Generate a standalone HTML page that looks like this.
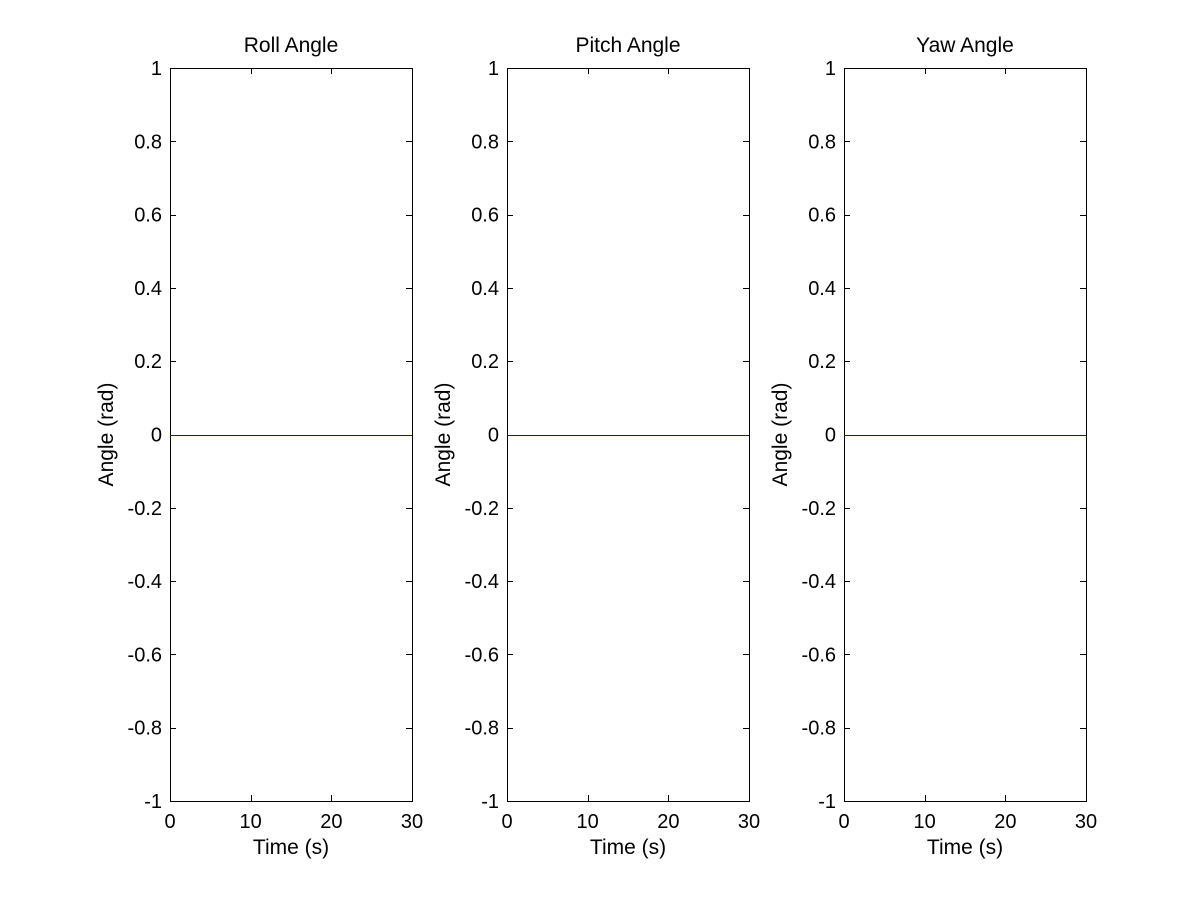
<!DOCTYPE html>
<html><head><meta charset="utf-8"><style>
html,body{margin:0;padding:0;background:#fff;}
svg{display:block;font-family:"Liberation Sans",Arial,sans-serif;}
</style></head><body>
<svg id="fig" width="1200" height="900" viewBox="0 0 1200 900"></svg>
<script>
const titles = ["Roll Angle", "Pitch Angle", "Yaw Angle"];
const xTicks = [0, 10, 20, 30];
const yTicks = [-1, -0.8, -0.6, -0.4, -0.2, 0, 0.2, 0.4, 0.6, 0.8, 1];
const timeValues = [0, 30];
const rollValues = [0, 0];
const pitchValues = [0, 0];
const yawValues = [0, 0];
const seriesList = [rollValues, pitchValues, yawValues];

const NS = "http://www.w3.org/2000/svg";
const svgEl = document.getElementById("fig");
function mk(tag, attrs, parent) {
  const e = document.createElementNS(NS, tag);
  for (const k in attrs) e.setAttribute(k, attrs[k]);
  parent.appendChild(e);
  return e;
}
const lefts = [170, 507, 844];
const plotW = 242, plotTop = 68, plotBottom = 801;
titles.forEach((t, i) => {
  const L = lefts[i], R = L + plotW;
  const xs = v => L + (v - xTicks[0]) / (xTicks[xTicks.length-1] - xTicks[0]) * plotW;
  const ys = v => plotBottom - (v - yTicks[0]) / (yTicks[yTicks.length-1] - yTicks[0]) * (plotBottom - plotTop);
  const g = mk("g", {}, svgEl);
  
  
  const box = mk("rect", {x: L+0.5, y: plotTop+0.5, width: plotW, height: plotBottom-plotTop, fill: "#fff", stroke: "#000", "stroke-width": 1}, g);
  
  
  xTicks.forEach(v => {
    const x = Math.round(xs(v)) + 0.5;
    mk("line", {x1: x, y1: plotBottom, x2: x, y2: plotBottom-6, stroke: "#000"}, g);
    mk("line", {x1: x, y1: plotTop, x2: x, y2: plotTop+6, stroke: "#000"}, g);
    const tx = mk("text", {x: xs(v), y: plotBottom + 27, "font-size": 20, "text-anchor": "middle"}, g);
    tx.textContent = v;
    
    
  });
  yTicks.forEach(v => {
    const y = Math.round(ys(v)) + 0.5;
    mk("line", {x1: L, y1: y, x2: L+6, y2: y, stroke: "#000"}, g);
    mk("line", {x1: R, y1: y, x2: R-6, y2: y, stroke: "#000"}, g);
    const ty = mk("text", {x: L - 8, y: ys(v) + 7, "font-size": 20, "text-anchor": "end"}, g);
    ty.textContent = v;
    
    
  });
  const vals = seriesList[i];
  const pts = timeValues.map((tv, j) => xs(tv) + "," + (Math.round(ys(vals[j])) + 0.5)).join(" ");
  const pl = mk("polyline", {points: pts, fill: "none", stroke: "#0000ff", "stroke-width": 1, "shape-rendering": "crispEdges"}, g);
  
  
  const tt = mk("text", {x: L + plotW/2, y: 52, "font-size": 21, "text-anchor": "middle"}, g);
  tt.textContent = t;
  
  
  const xl = mk("text", {x: L + plotW/2, y: 854, "font-size": 21, "text-anchor": "middle"}, g);
  xl.textContent = "Time (s)";
  
  
  const yl = mk("text", {x: 0, y: 0, "font-size": 21, "text-anchor": "middle", transform: "translate(" + (L - 57) + "," + ys(0) + ") rotate(-90)"}, g);
  yl.textContent = "Angle (rad)";
  
  
});
</script>
</body></html>
